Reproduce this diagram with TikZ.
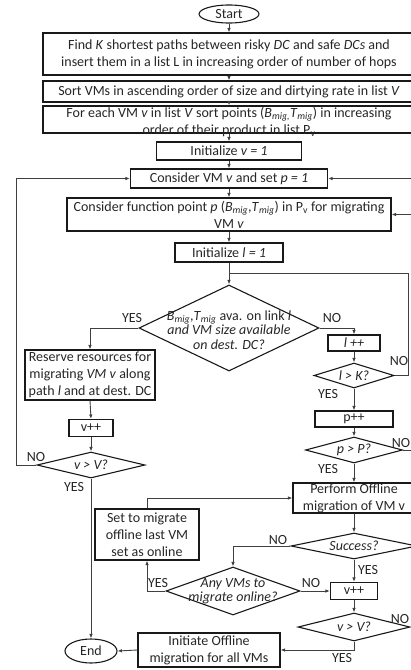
\documentclass[tikz,border=0pt]{standalone}
\usepackage{fontspec}
\setmainfont{Carlito}
\usetikzlibrary{shapes.geometric,arrows.meta}

\tikzset{
  every node/.style={font=\fontsize{14}{17}\selectfont, text=black!85},
  every label/.style={align=center, inner sep=0pt},
  stepbox/.style={draw=black!90, line width=1.1pt, rectangle, inner sep=0pt},
  decision/.style={draw=black!90, line width=1.1pt, diamond, inner sep=0pt},
  asktext/.style={font=\fontsize{14}{14.5}\selectfont},
  terminal/.style={draw=black!90, line width=1.1pt, ellipse, inner sep=0pt},
  flow/.style={draw=black!75, line width=0.9pt, -{Latex[length=4.5pt,width=3.5pt]}},
  joinline/.style={draw=black!75, line width=0.9pt},
}

\begin{document}
\begin{tikzpicture}[x=1pt, y=-1pt]
\useasboundingbox (0,0) rectangle (411,670);

% main column
\node (start) [terminal, minimum width=60, minimum height=18] at (229,14) {Start};
\node (find) [stepbox, minimum width=372, minimum height=42, label={center:Find \textit{K} shortest paths between risky \textit{DC} and safe \textit{DCs} and\\insert them in a list L in increasing order of number of hops}] at (229,54) {};
\node (sortv) [stepbox, minimum width=372, minimum height=21, label={center:Sort VMs in ascending order of size and dirtying rate in list \textit{V}}] at (229,91.5) {};
\node (sortp) [stepbox, minimum width=372, minimum height=27, label={[yshift=-2.5pt]center:For each VM \textit{v} in list \textit{V} sort points (\textit{B}\textsubscript{\textit{mig,}}\textit{T}\textsubscript{\textit{mig}}) in increasing\\order of their product in list P\textsubscript{v}}] at (229,119.5) {};
\node (initv) [stepbox, minimum width=145, minimum height=18, label={center:Initialize \textit{v = 1}}] at (229,151) {};
\node (considerv) [stepbox, minimum width=197, minimum height=19, label={center:Consider VM \textit{v} and set \textit{p = 1}}] at (229,178.5) {};
\node (considerp) [stepbox, minimum width=324, minimum height=33, label={center:Consider function point \textit{p} (\textit{B}\textsubscript{\textit{mig}},\textit{T}\textsubscript{\textit{mig}}) in P\textsubscript{v} for migrating\\VM \textit{v}}] at (229,214.5) {};
\node (initl) [stepbox, minimum width=108, minimum height=19, label={center:Initialize \textit{l = 1}}] at (229,252.5) {};
\node (chk) [decision, minimum width=180, minimum height=86, label={[asktext, yshift=-2pt]center:\textit{B}\textsubscript{\textit{mig}},\textit{T}\textsubscript{\textit{mig}} ava. on link \textit{l}\\\textit{and VM size available}\\\textit{on dest. DC?}}] at (229,328) {};

% left column
\node (reserve) [stepbox, minimum width=130, minimum height=50, label={center:Reserve resources for\\migrating \textit{VM v} along\\path \textit{l} and at dest. DC}] at (90,375) {};
\node (vppa) [stepbox, minimum width=44, minimum height=17, label={center:v++}] at (91,428) {};
\node (vva) [decision, minimum width=108, minimum height=26, label={center:\textit{v > V?}}] at (91,465) {};
\node (end) [terminal, minimum width=52, minimum height=24] at (91,651) {End};

% right column
\node (lpp) [stepbox, minimum width=52, minimum height=16, label={center:\textit{l ++}}] at (354,343) {};
\node (lk) [decision, minimum width=80, minimum height=25, label={center:\textit{l > K?}}] at (354,375.5) {};
\node (ppp) [stepbox, minimum width=78, minimum height=16, label={center:p++}] at (354,419) {};
\node (pk) [decision, minimum width=97, minimum height=26, label={center:\textit{p > P?}}] at (354,450) {};
\node (perform) [stepbox, minimum width=122, minimum height=30, label={center:Perform Offline\\migration of VM v}] at (354,498) {};
\node (succ) [decision, minimum width=126, minimum height=26, label={center:\textit{Success?}}] at (354,546) {};
\node (vppb) [stepbox, minimum width=47, minimum height=17, label={center:v++}] at (354,591) {};
\node (vvb) [decision, minimum width=112, minimum height=28, label={center:\textit{v > V?}}] at (354,627) {};

% middle bottom
\node (setmig) [stepbox, minimum width=104, minimum height=51, label={center:Set to migrate\\offline last VM\\set as online}] at (147,534.5) {};
\node (any) [decision, minimum width=134, minimum height=48, label={[asktext]center:\textit{Any VMs to}\\\textit{migrate online?}}] at (233,591) {};
\node (initoff) [stepbox, minimum width=142, minimum height=34, label={center:Initiate Offline\\migration for all VMs}] at (209,650) {};

% turning points
\coordinate (ljoin) at (229,273);
\coordinate (lkturn) at (408,273);
\coordinate (pturn) at (417,450);
\coordinate (vturn) at (424,627);

% answers
\node (yesa) at (132,318) {YES};
\node (noa) at (332,318) {NO};
\node (nob) at (399,361) {NO};
\node (yesb) at (328,394) {YES};
\node (noc) at (401,443) {NO};
\node (yesc) at (328,469) {YES};
\node (nod) at (36,457) {NO};
\node (yesd) at (74,487) {YES};
\node (noe) at (278,540) {NO};
\node (yese) at (368,570) {YES};
\node (yesf) at (158,583) {YES};
\node (nof) at (311,583) {NO};
\node (nog) at (400,619) {NO};
\node (yesg) at (342,658) {YES};

% connectors
\draw[flow] (start.south) -- (find.north);
\draw[flow] (find.south) -- (sortv.north);
\draw[flow] (sortv.south) -- (sortp.north);
\draw[flow] (sortp.south) -- (initv.north);
\draw[flow] (initv.south) -- (considerv.north);
\draw[flow] (considerv.south) -- (considerp.north);
\draw[flow] (considerp.south) -- (initl.north);
\draw[flow] (initl.south) -- (chk.north);
\draw[flow] (chk.west) -| (reserve.north);
\draw[flow] (chk.east) -| (lpp.north);
\draw[flow] (lpp.south) -- (lk.north);
\draw[joinline] (lk.east) -| (lkturn) -- (ljoin);
\draw[flow] (lk.south) -- (ppp.north);
\draw[flow] (ppp.south) -- (pk.north);
\draw[flow] (pk.east) -- (pturn) |- (considerp.east);
\draw[flow] (pk.south) -- (perform.north);
\draw[flow] (perform.south) -- (succ.north);
\draw[flow] (succ.west) -| (any.north);
\draw[flow] (succ.south) -- (vppb.north);
\draw[flow] (any.west) -| (setmig.south);
\draw[flow] (setmig.north) |- (perform.west);
\draw[flow] (any.east) -- (vppb.west);
\draw[flow] (vppb.south) -- (vvb.north);
\draw[flow] (vvb.east) -- (vturn) |- (considerv.east);
\draw[flow] (vvb.south) |- (initoff.east);
\draw[flow] (initoff.west) -- (end.east);
\draw[flow] (reserve.south) -- (vppa.north);
\draw[flow] (vppa.south) -- (vva.north);
\draw[flow] (vva.west) -- ++(-20,0) |- (considerv.west);
\draw[flow] (vva.south) -- (end.north);

\end{tikzpicture}
\end{document}
